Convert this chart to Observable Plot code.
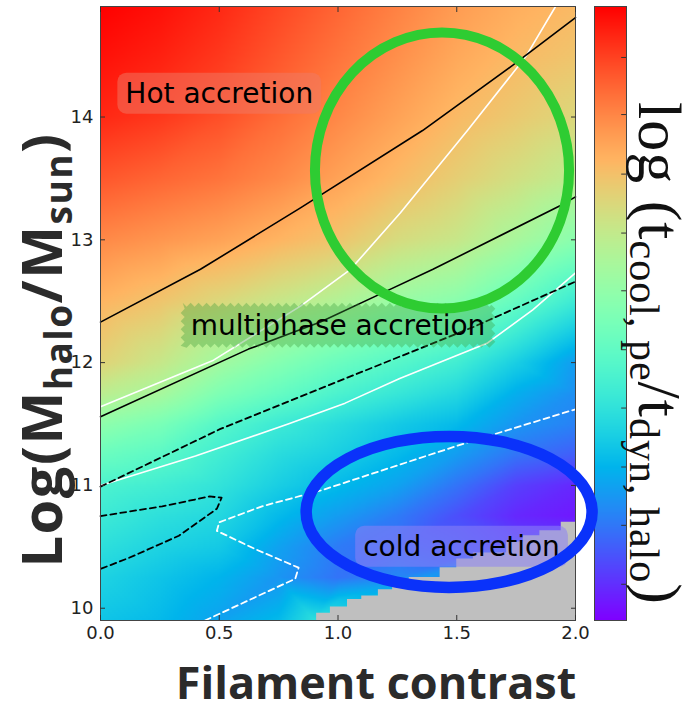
<!DOCTYPE html>
<html>
<head>
<meta charset="utf-8">
<script src="https://cdn.jsdelivr.net/npm/d3@7"></script>
<script src="https://cdn.jsdelivr.net/npm/@observablehq/plot@0.6"></script>
<style>
  body { margin: 0; background: #fff; }
  #chart { position: relative; width: 699px; height: 712px; overflow: hidden; }
  #chart svg { position: absolute; left: 0; top: 0; }
</style>
</head>
<body>
<div id="chart"></div>
<script>
// Sample grid: filament contrast (columns) and log halo mass (rows)
const contrastGrid = [0, 0.25, 0.5, 0.75, 1.0, 1.25, 1.5, 1.75, 2.0];
const massGrid = [14.9, 14.5, 14.0, 13.5, 13.0, 12.5, 12.0, 11.75, 11.5, 11.25, 11.0, 10.75, 10.5, 10.25, 9.9];
// Colour level of log(t_cool,pe / t_dyn,halo), normalised to the colour bar; null = masked
const coolingLevel = [
  [1.00, 0.98, 0.95, 0.91, 0.87, 0.83, 0.79, 0.76, 0.74],
  [0.98, 0.96, 0.93, 0.89, 0.85, 0.81, 0.77, 0.74, 0.72],
  [0.95, 0.93, 0.90, 0.86, 0.82, 0.78, 0.74, 0.71, 0.68],
  [0.89, 0.87, 0.85, 0.82, 0.78, 0.74, 0.70, 0.66, 0.62],
  [0.82, 0.80, 0.78, 0.75, 0.72, 0.67, 0.64, 0.58, 0.52],
  [0.75, 0.72, 0.68, 0.64, 0.60, 0.55, 0.52, 0.45, 0.37],
  [0.69, 0.64, 0.57, 0.51, 0.46, 0.42, 0.38, 0.30, 0.21],
  [0.62, 0.58, 0.50, 0.45, 0.40, 0.36, 0.32, 0.24, 0.19],
  [0.53, 0.49, 0.42, 0.37, 0.33, 0.29, 0.26, 0.20, 0.17],
  [0.46, 0.43, 0.38, 0.33, 0.30, 0.26, 0.21, 0.15, 0.12],
  [0.40, 0.38, 0.35, 0.30, 0.26, 0.22, 0.15, 0.08, 0.05],
  [0.37, 0.34, 0.32, 0.26, 0.21, 0.16, 0.10, 0.05, 0.03],
  [0.34, 0.31, 0.29, 0.22, 0.16, 0.14, 0.12, null, null],
  [0.31, 0.28, 0.25, 0.20, 0.15, 0.18, null, null, null],
  [0.28, 0.26, 0.22, 0.26, null, null, null, null, null]
];
// Extra samples along the edge of the masked region
const edgeContrast = [0.9, 1.0, 1.25, 1.5, 1.75, 2.0];
const edgeMass = [9.9, 10.06, 10.22, 10.41, 10.57, 10.72];
const edgeLevel = [0.34, 0.28, 0.20, 0.13, 0.08, 0.04];

// Masked (no data) region: step start in contrast and top in mass
const maskContrast = [0.91, 0.968, 1.04, 1.10, 1.17, 1.23, 1.30, 1.43, 1.50, 1.57, 1.71, 1.78, 1.85, 1.94, 2.0];
const maskTop = [9.96, 10.01, 10.07, 10.10, 10.15, 10.20, 10.25, 10.33, 10.40, 10.45, 10.54, 10.59, 10.63, 10.70, 10.70];

// Contour lines
const blackUpperX = [0, 0.421, 0.842, 1.356, 1.735, 2.0];
const blackUpperY = [12.33, 12.76, 13.26, 13.89, 14.42, 14.81];
const whiteUpperX = [0, 0.476, 0.842, 1.053, 1.263, 1.545, 1.79, 1.916];
const whiteUpperY = [11.64, 12.02, 12.46, 12.76, 13.22, 13.89, 14.49, 14.9];
const blackLowerX = [0, 0.623, 0.926, 1.19, 1.40, 1.937, 2.0];
const blackLowerY = [11.56, 12.11, 12.33, 12.57, 12.76, 13.28, 13.35];
const whiteLowerX = [0, 0.4, 0.79, 1.03, 1.26, 1.63, 1.82, 2.0];
const whiteLowerY = [11.0, 11.24, 11.5, 11.67, 11.87, 12.16, 12.43, 12.73];
const dashUpperX = [0, 0.505, 1.03, 1.57, 2.0];
const dashUpperY = [10.99, 11.46, 11.87, 12.29, 12.66];
const dashNoseX = [0, 0.26, 0.46, 0.51, 0.49, 0.33, 0.12, 0];
const dashNoseY = [10.75, 10.83, 10.91, 10.90, 10.81, 10.59, 10.41, 10.32];
const whiteDashX = [0.44, 0.82, 0.834, 0.653, 0.49, 0.50, 0.68, 0.93, 1.545, 2.0];
const whiteDashY = [9.9, 10.24, 10.33, 10.48, 10.63, 10.70, 10.83, 10.96, 11.35, 11.62];

// Region labels
const regionLabels = ["Hot accretion", "multiphase accretion", "cold accretion"];
const labelX = [0.50, 1.0, 1.52];
const labelY = [14.19, 12.30, 10.50];

// Highlight ellipses (centre and radii in data units)
const ellipseCx = [1.44, 1.47];
const ellipseCy = [13.56, 10.78];
const ellipseRx = [0.535, 0.602];
const ellipseRy = [1.124, 0.615];
const ellipseColor = ["#2ecc32", "#0a32fa"];

// Ticks
const xTicks = [0, 0.5, 1.0, 1.5, 2.0];
const yTicks = [10, 11, 12, 13, 14];
const barTicks = [0.059, 0.155, 0.25, 0.346, 0.441, 0.537, 0.631, 0.727, 0.824, 0.917];

// ---------------------------------------------------------------
const cells = [];
massGrid.forEach((m, i) => contrastGrid.forEach((c, j) => {
  const v = coolingLevel[i][j];
  if (v != null) cells.push({c, m, v});
}));
edgeContrast.forEach((c, i) => cells.push({c, m: edgeMass[i], v: edgeLevel[i]}));

const maskSteps = maskContrast.map((c, i) => ({c, top: maskTop[i]}));
const toPts = (xs, ys) => xs.map((x, i) => ({x, y: ys[i]}));
const ellipses = ellipseCx.map((cx, i) => ({cx, cy: ellipseCy[i], rx: ellipseRx[i], ry: ellipseRy[i], color: ellipseColor[i]}));
const labels = regionLabels.map((text, i) => ({text, x: labelX[i], y: labelY[i]}));

// matplotlib-style "rainbow" colormap
const rainbow = t => {
  t = Math.max(0, Math.min(1, t));
  const r = Math.min(1, Math.abs(2 * t - 0.5));
  const g = Math.sin(Math.PI * t);
  const b = Math.cos(Math.PI * t / 2);
  return d3.rgb(255 * r, 255 * g, 255 * b).formatHex();
};
const colorScale = {type: "linear", domain: [0, 1], interpolate: rainbow};

const W = 699, H = 712;
const chart = document.getElementById("chart");

// Colour bar
const bar = Plot.plot({
  width: W, height: H,
  marginLeft: 594, marginRight: W - 626, marginTop: 6, marginBottom: H - 620,
  x: {domain: [0, 1], axis: null},
  y: {domain: [0, 1], axis: null},
  color: colorScale,
  style: {background: "transparent"},
  marks: [
    Plot.raster({fill: (x, y) => y, x1: 0, x2: 1, y1: 0, y2: 1, pixelSize: 1}),
    Plot.ruleY(barTicks, {x1: 0.85, x2: 1, stroke: "#333", strokeWidth: 1}),
    Plot.frame({stroke: "#444", strokeWidth: 1})
  ]
});
chart.appendChild(bar);

// Main panel
const main = Plot.plot({
  width: W, height: H,
  marginLeft: 100, marginRight: W - 575, marginTop: 6, marginBottom: H - 620,
  x: {domain: [0, 2]},
  y: {domain: [9.9, 14.9]},
  color: colorScale,
  style: {background: "transparent", fontFamily: "DejaVu Sans", fontSize: "18px", color: "#222"},
  marks: [
    Plot.raster(cells, {x: "c", y: "m", fill: "v", x1: 0, x2: 2, y1: 9.9, y2: 14.9,
      interpolate: "barycentric", pixelSize: 2}),
    Plot.areaY(maskSteps, {x: "c", y1: 9.9, y2: "top", curve: "step-after", fill: "#bfbfbf"}),
    Plot.line(toPts(whiteUpperX, whiteUpperY), {x: "x", y: "y", stroke: "white", strokeWidth: 1.6}),
    Plot.line(toPts(whiteLowerX, whiteLowerY), {x: "x", y: "y", stroke: "white", strokeWidth: 1.6}),
    Plot.line(toPts(whiteDashX, whiteDashY), {x: "x", y: "y", stroke: "white", strokeWidth: 1.8, strokeDasharray: "6,4"}),
    Plot.line(toPts(blackUpperX, blackUpperY), {x: "x", y: "y", stroke: "black", strokeWidth: 1.6}),
    Plot.line(toPts(blackLowerX, blackLowerY), {x: "x", y: "y", stroke: "black", strokeWidth: 1.6}),
    Plot.line(toPts(dashUpperX, dashUpperY), {x: "x", y: "y", stroke: "black", strokeWidth: 1.8, strokeDasharray: "6,4"}),
    Plot.line(toPts(dashNoseX, dashNoseY), {x: "x", y: "y", stroke: "black", strokeWidth: 1.8, strokeDasharray: "6,4"}),
    Plot.text(labels, {x: "x", y: "y", text: "text", fontSize: 28, fontFamily: "DejaVu Sans", fill: "black", lineAnchor: "middle"}),
    Plot.frame({stroke: "#444", strokeWidth: 1}),
    Plot.axisX(xTicks, {anchor: "bottom", tickSize: -5, tickPadding: 11, tickFormat: d3.format(".1f"), label: null, stroke: "#333"}),
    Plot.axisX(xTicks, {anchor: "top", tickSize: -5, tickFormat: () => "", label: null, stroke: "#333"}),
    Plot.axisY(yTicks, {anchor: "left", tickSize: -5, tickPadding: 12, tickFormat: d3.format("d"), label: null, stroke: "#333"}),
    Plot.axisY(yTicks, {anchor: "right", tickSize: -5, tickFormat: () => "", label: null, stroke: "#333"}),
    Plot.dot(ellipses, {x: "cx", y: "cy", render(index, scales) {
      const g = d3.create("svg:g").attr("fill", "none");
      for (const i of index) {
        const e = ellipses[i];
        const cx = scales.x(e.cx), cy = scales.y(e.cy);
        g.append("ellipse")
          .attr("cx", cx).attr("cy", cy)
          .attr("rx", Math.abs(scales.x(e.cx + e.rx) - cx))
          .attr("ry", Math.abs(scales.y(e.cy + e.ry) - cy))
          .attr("stroke", e.color).attr("stroke-width", i === 0 ? 10 : 11.5);
      }
      return g.node();
    }})
  ]
});
chart.appendChild(main);

// Label boxes behind the region labels
const boxStyle = [
  {shape: "round", fill: "#f07a66", opacity: 0.5},
  {shape: "saw", fill: "#3a9a3a", opacity: 0.35},
  {shape: "round", fill: "#8c82f5", opacity: 0.55}
];
function sawPath(x0, y0, x1, y1, p = 8, a = 2) {
  const pts = [];
  const edge = (ax, ay, bx, by, nx, ny) => {
    const L = Math.hypot(bx - ax, by - ay), n = Math.max(2, 2 * Math.round(L / p));
    for (let k = 0; k < n; k++) {
      const t = k / n, s = (k % 2 ? 1 : -1) * a;
      pts.push([ax + (bx - ax) * t + nx * s, ay + (by - ay) * t + ny * s]);
    }
  };
  edge(x0, y0, x1, y0, 0, 1); edge(x1, y0, x1, y1, 1, 0);
  edge(x1, y1, x0, y1, 0, 1); edge(x0, y1, x0, y0, 1, 0);
  return "M" + pts.map(q => q.join(",")).join("L") + "Z";
}
d3.select(main).selectAll('g[aria-label="text"] text').each(function (_, i) {
  const b = this.getBBox(), st = boxStyle[i];
  const padX = 8, padY = 4;
  const x0 = b.x - padX, y0 = b.y - padY, x1 = b.x + b.width + padX, y1 = b.y + b.height + padY;
  const box = st.shape === "round"
    ? d3.create("svg:rect").attr("x", x0).attr("y", y0).attr("width", x1 - x0).attr("height", y1 - y0).attr("rx", 9)
    : d3.create("svg:path").attr("d", sawPath(x0, y0, x1, y1));
  box.attr("fill", st.fill).attr("fill-opacity", st.opacity);
  const tr = this.getAttribute("transform");
  if (tr) box.attr("transform", tr);
  this.parentNode.insertBefore(box.node(), this);
});

// Axis titles and colour bar label
const svg = d3.select(main);
svg.append("text")
  .attr("x", 376).attr("y", 699).attr("text-anchor", "middle")
  .attr("font-family", "Open Sans").attr("font-weight", 700).attr("font-size", 45).attr("fill", "#2b2b2b")
  .text("Filament contrast");

const yt = svg.append("text")
  .attr("transform", "translate(62,350) rotate(-90)").attr("text-anchor", "middle")
  .attr("font-family", "Open Sans").attr("font-weight", 700).attr("font-size", 56)
  .attr("letter-spacing", 1.5).attr("fill", "#2b2b2b");
yt.append("tspan").text("Log(M");
yt.append("tspan").attr("font-size", 37).attr("dy", 10).text("halo");
yt.append("tspan").attr("dy", -10).text("/M");
yt.append("tspan").attr("font-size", 37).attr("dy", 10).text("sun");
yt.append("tspan").attr("dy", -10).text(")");

const ct = svg.append("text")
  .attr("transform", "translate(639,102) rotate(90)").attr("text-anchor", "start")
  .attr("font-family", "Liberation Serif").attr("font-size", 62)
  .attr("letter-spacing", 1).attr("fill", "#111");
ct.append("tspan").text("log (t");
ct.append("tspan").attr("font-size", 42).attr("dy", 9).text("cool, pe");
ct.append("tspan").attr("dy", -9).text("/t");
ct.append("tspan").attr("font-size", 42).attr("dy", 9).text("dyn, halo");
ct.append("tspan").attr("dy", -9).text(")");
</script>
</body>
</html>
